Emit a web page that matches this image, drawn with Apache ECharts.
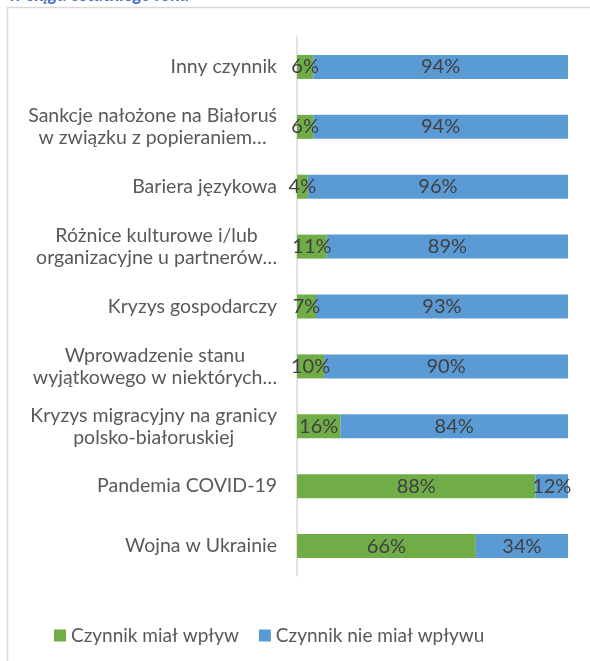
<!DOCTYPE html>
<html>
<head>
<meta charset="utf-8">
<script src="https://cdn.jsdelivr.net/npm/echarts@6/dist/echarts.min.js"></script>
<style>
  html, body { margin: 0; padding: 0; background: #fff; }
  #chart { width: 590px; height: 661px; }
</style>
</head>
<body>
<div id="chart"></div>
<script>
// dane z wykresu (od góry do dołu)
const categories = [
  "Inny czynnik",
  "Sankcje nałożone na Białoruś\nw związku z popieraniem…",
  "Bariera językowa",
  "Różnice kulturowe i/lub\norganizacyjne u partnerów…",
  "Kryzys gospodarczy",
  "Wprowadzenie stanu\nwyjątkowego w niektórych…",
  "Kryzys migracyjny na granicy\npolsko-białoruskiej",
  "Pandemia COVID-19",
  "Wojna w Ukrainie"
];
const hadImpact = [6, 6, 4, 11, 7, 10, 16, 88, 66];
const noImpact = [94, 94, 96, 89, 93, 90, 84, 12, 34];
const seriesNames = ["Czynnik miał wpływ", "Czynnik nie miał wpływu"];

const font = "Lato";
const chart = echarts.init(document.getElementById("chart"));

const option = {
  animation: false,
  textStyle: { fontFamily: font },
  title: {
    text: "w ciągu ostatniego roku",
    left: 4,
    top: -19,
    textStyle: { color: "#4472C4", fontSize: 18, fontWeight: "bold", fontStyle: "italic", fontFamily: font }
  },
  graphic: [
    {
      type: "rect",
      shape: { x: 7.5, y: 7.5, width: 620, height: 700 },
      style: { fill: "none", stroke: "#d9d9d9", lineWidth: 1.5 },
      silent: true
    }
  ],
  legend: {
    data: seriesNames,
    left: 49,
    top: 621,
    icon: "rect",
    itemWidth: 12,
    itemHeight: 12,
    itemGap: 20,
    textStyle: { color: "#595959", fontSize: 19, fontFamily: font }
  },
  grid: { left: 297, right: 22, top: 37, bottom: 85 },
  xAxis: {
    type: "value",
    min: 0,
    max: 100,
    show: false
  },
  yAxis: {
    type: "category",
    inverse: true,
    data: categories,
    axisLine: { show: true, lineStyle: { color: "#d9d9d9", width: 1.5 } },
    axisTick: { show: false },
    axisLabel: {
      margin: 20,
      align: "right",
      lineHeight: 22,
      formatter: function (v) {
        return v.split("\n").map(function (l) { return "{c|" + l + "}"; }).join("\n");
      },
      rich: {
        c: { align: "center", color: "#595959", fontSize: 19.5, lineHeight: 22, fontFamily: font }
      }
    }
  },
  series: [
    {
      name: seriesNames[0],
      type: "bar",
      stack: "total",
      data: hadImpact,
      barWidth: 24,
      itemStyle: { color: "#70AD47" },
      label: { show: true, position: "inside", formatter: "{c}%", color: "#404040", fontSize: 20, fontFamily: font }
    },
    {
      name: seriesNames[1],
      type: "bar",
      stack: "total",
      data: noImpact,
      barWidth: 24,
      itemStyle: { color: "#5B9BD5" },
      label: { show: true, position: "inside", formatter: "{c}%", color: "#404040", fontSize: 20, fontFamily: font }
    }
  ]
};

chart.setOption(option);
</script>
</body>
</html>
